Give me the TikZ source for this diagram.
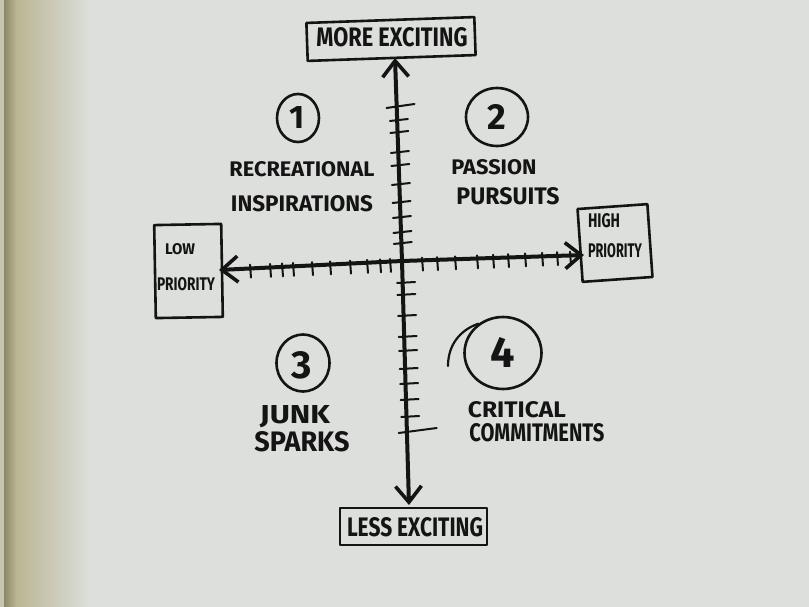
\documentclass[tikz,border=0pt]{standalone}
\usepackage{graphicx}
\usepackage{fontspec}
\setmainfont{Fira Sans}
\usetikzlibrary{arrows.meta,shapes.geometric,calc}
\definecolor{page}{RGB}{220,223,219}
\definecolor{pagedark}{RGB}{185,180,145}
\definecolor{spine}{RGB}{140,135,100}
\definecolor{ink}{RGB}{20,20,20}
\newcommand{\hw}[3]{\resizebox{#1pt}{#2pt}{\bfseries #3}}
\newcommand{\hn}[2]{\resizebox{!}{#1pt}{\bfseries #2}}
\begin{document}
\begin{tikzpicture}[x=1pt,y=-1pt,
  pen/.style={draw=ink,line width=2.6pt,line join=round,line cap=round},
  box/.style={pen,rectangle,inner sep=0pt},
  ring/.style={pen,ellipse,inner sep=0pt},
  lbl/.style={inner sep=0pt,text=ink},
  axis/.style={draw=ink,line width=4pt,line cap=round,-{Straight Barb[length=16pt,width=26pt,line width=3.6pt]}},
  tickmark/.style={draw=ink,line width=2pt,line cap=round}]
% background page
\fill[page] (0,0) rectangle (809,607);
\shade[left color=pagedark,right color=page] (14,0) rectangle (90,607);
\shade[left color=spine,right color=pagedark] (4,0) rectangle (16,607);
\fill[pagedark!60!page] (0,0) rectangle (4,607);
\useasboundingbox (0,0) rectangle (809,607);

% boxes
\node[box,minimum width=168pt,minimum height=38pt,rotate=2] (more) at (391,39) {};
\node[lbl] (moret) at (392,37) {\hw{151}{19}{MORE EXCITING}};
\node[box,minimum width=147pt,minimum height=37pt] (less) at (413.5,526.5) {};
\node[lbl] (lesst) at (415,527) {\hw{136}{19}{LESS EXCITING}};
\node[box,minimum width=67pt,minimum height=93pt,rotate=1] (low) at (188.5,271) {};
\node[lbl] (lowt1) at (180,249) {\hw{30}{11}{LOW}};
\node[lbl] (lowt2) at (186,284) {\hw{58}{13}{PRIORITY}};
\node[box,minimum width=70pt,minimum height=73pt,rotate=4] (high) at (615,243) {};
\node[lbl] (hight1) at (604,221) {\hw{32}{14}{HIGH}};
\node[lbl] (hight2) at (615,251) {\hw{54}{14}{PRIORITY}};

% axes
\coordinate (o) at (402,261);
\coordinate (yt) at (395,58);
\coordinate (yb) at (409,505);
\coordinate (xl) at (219,270);
\coordinate (xr) at (584,255);
\draw[axis] (o) -- (yt);
\draw[axis] (o) -- (yb);
\draw[axis] (o) -- (xl);
\draw[axis] (o) -- (xr);

% ticks on horizontal axis
\foreach \x in {250,270,282,293,312,330,350,367,380,390,422,437,455,477,493,508,525,542,557,570}
  \draw[tickmark] (\x,{270-(\x-218)*0.0409-4}) -- ++(1,13);
% ticks on vertical axis, upper half
\draw[tickmark] ({395+(107-58)*0.0313-10},108) -- ++(28,-4);
\foreach \y in {120,132,152,165,184,202,217,232,243}
  \draw[tickmark] ({395+(\y-58)*0.0313-7},\y+1) -- ++(18,-2);
% ticks on vertical axis, lower half
\foreach \y in {283,295,316,337,351,369,384,400,417}
  \draw[tickmark] ({395+(\y-58)*0.0313-5},\y) -- ++(18,-1);
\draw[tickmark] ({395+(433-58)*0.0313-8},433) -- ++(38,-5);

% quadrant 1
\node[ring,minimum width=42pt,minimum height=48pt] (c1) at (298,118) {};
\node[lbl] (n1) at (297,117) {\hn{22}{1}};
\node[lbl] (t1a) at (302,169) {\hw{145}{15}{RECREATIONAL}};
\node[lbl] (t1b) at (302,204) {\hw{142}{16}{INSPIRATIONS}};
% quadrant 2
\node[ring,minimum width=62pt,minimum height=58pt] (c2) at (497,117) {};
\node[lbl] (n2) at (497,117) {\hn{25}{2}};
\node[lbl] (t2a) at (494,167) {\hw{85}{15}{PASSION}};
\node[lbl] (t2b) at (508,196) {\hw{103}{17}{PURSUITS}};
% quadrant 3
\node[ring,minimum width=53pt,minimum height=57pt] (c3) at (303,363) {};
\node[lbl] (n3) at (302,365) {\hn{27}{3}};
\node[lbl] (t3a) at (295,417) {\hw{70}{18}{JUNK}};
\node[lbl] (t3b) at (302,442) {\hw{95}{20}{SPARKS}};
% quadrant 4
\node[ring,minimum width=77pt,minimum height=72pt] (c4) at (503,353) {};
\coordinate (tail) at (448,366);
\draw[pen,line width=2.2pt] (tail) .. controls (448,345) and (460,330) .. (c4.130);
\node[lbl] (n4) at (503,352) {\hn{30}{4}};
\node[lbl] (t4a) at (517,410) {\hw{98}{16}{CRITICAL}};
\node[lbl] (t4b) at (537,433) {\hw{135}{18}{COMMITMENTS}};
\end{tikzpicture}
\end{document}
